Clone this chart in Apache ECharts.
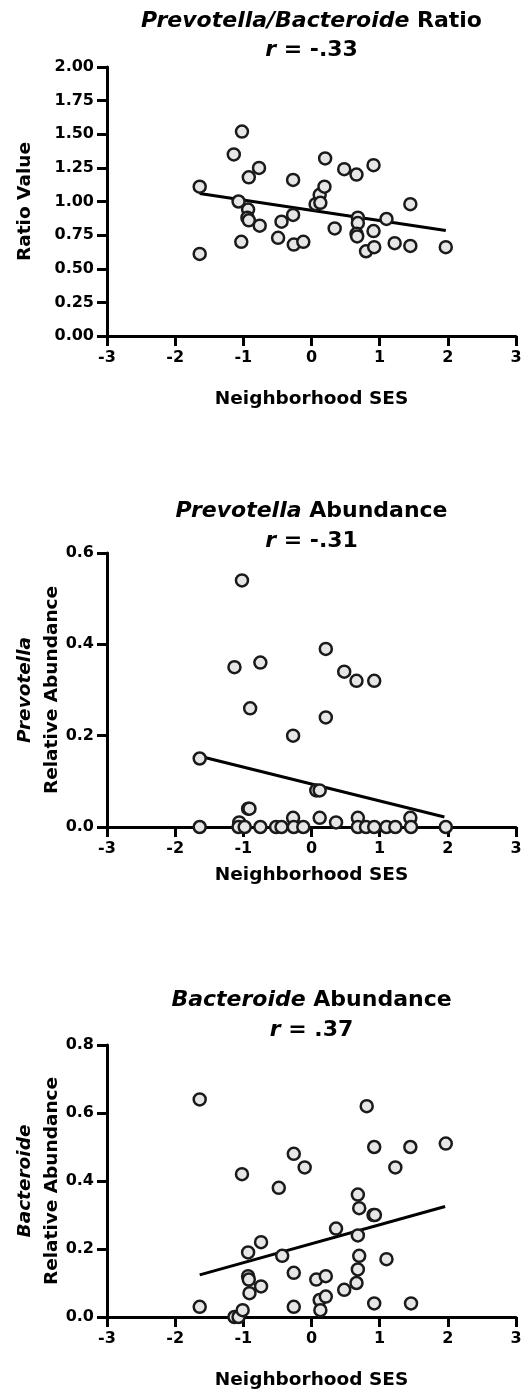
<!DOCTYPE html>
<html><head><meta charset="utf-8">
<script src="https://cdn.jsdelivr.net/npm/echarts@6/dist/echarts.min.js"></script>
<style>html,body{margin:0;padding:0;background:#fff}#c{width:522px;height:1393px}</style>
</head><body><div id="c"></div><script>
// Panel 1: Prevotella/Bacteroide ratio vs neighborhood SES
const ratioSES = [-1.64,-1.64,-1.14,-1.02,-1.07,-1.03,-0.93,-0.94,-0.92,-0.92,-0.77,-0.76,-0.49,-0.44,-0.27,-0.27,-0.26,-0.12,0.06,0.12,0.13,0.19,0.20,0.34,0.48,0.66,0.68,0.68,0.66,0.67,0.80,0.91,0.91,0.92,1.10,1.22,1.45,1.45,1.97];
const ratioVal = [1.11,0.61,1.35,1.52,1.00,0.70,0.94,0.88,0.86,1.18,1.25,0.82,0.73,0.85,1.16,0.90,0.68,0.70,0.98,1.05,0.99,1.11,1.32,0.80,1.24,1.20,0.88,0.84,0.76,0.74,0.63,1.27,0.78,0.66,0.87,0.69,0.98,0.67,0.66];
const ratioFitX = [-1.64, 1.97];
const ratioFitY = [1.06, 0.785];

// Panel 2: Prevotella relative abundance
const prevSES = [-1.64,-1.64,-1.13,-1.02,-1.06,-1.07,-0.98,-0.93,-0.91,-0.90,-0.75,-0.75,-0.52,-0.44,-0.27,-0.27,-0.26,-0.12,0.07,0.12,0.12,0.21,0.21,0.36,0.48,0.66,0.68,0.68,0.80,0.92,0.92,1.10,1.23,1.45,1.46,1.97];
const prevVal = [0.15,0.00,0.35,0.54,0.01,0.00,0.00,0.04,0.04,0.26,0.36,0.00,0.00,0.00,0.20,0.02,0.00,0.00,0.08,0.08,0.02,0.39,0.24,0.01,0.34,0.32,0.02,0.00,0.00,0.32,0.00,0.00,0.00,0.02,0.00,0.00];
const prevFitX = [-1.64, 1.95];
const prevFitY = [0.155, 0.022];

// Panel 3: Bacteroide relative abundance
const bactSES = [-1.64,-1.64,-1.13,-1.07,-1.01,-1.02,-0.93,-0.93,-0.92,-0.91,-0.74,-0.74,-0.48,-0.43,-0.26,-0.26,-0.26,-0.10,0.07,0.12,0.13,0.21,0.21,0.36,0.48,0.68,0.70,0.68,0.70,0.68,0.66,0.81,0.91,0.93,0.92,0.92,1.10,1.23,1.45,1.46,1.97];
const bactVal = [0.64,0.03,0.00,0.00,0.02,0.42,0.19,0.12,0.11,0.07,0.22,0.09,0.38,0.18,0.48,0.13,0.03,0.44,0.11,0.05,0.02,0.12,0.06,0.26,0.08,0.36,0.32,0.24,0.18,0.14,0.10,0.62,0.30,0.30,0.50,0.04,0.17,0.44,0.50,0.04,0.51];
const bactFitX = [-1.64, 1.96];
const bactFitY = [0.124, 0.325];

// Axis settings
const xTicks = {min: -3, max: 3, interval: 1};
const yTicks = [
  {min: 0, max: 2.0, interval: 0.25, dec: 2},
  {min: 0, max: 0.6, interval: 0.2, dec: 1},
  {min: 0, max: 0.8, interval: 0.2, dec: 1}
];

const FONT = 'DejaVu Sans';
const grids = [
  {left: 107, right: 6, top: 67, height: 269, outerBoundsMode: 'none', containLabel: false},
  {left: 107, right: 6, top: 553, height: 274, outerBoundsMode: 'none', containLabel: false},
  {left: 107, right: 6, top: 1045, height: 272, outerBoundsMode: 'none', containLabel: false}
];
const yNames = [
  'Ratio Value',
  '{i|Prevotella}\nRelative Abundance',
  '{i|Bacteroide}\nRelative Abundance'
];
const yNameGaps = [68, 41.5, 41.5];
const xNameGaps = [52, 37, 52];
const titles = [
  ['{i|Prevotella/Bacteroide} Ratio', '{i|r} = -.33'],
  ['{i|Prevotella} Abundance', '{i|r} = -.31'],
  ['{i|Bacteroide} Abundance', '{i|r} = .37']
];
const titleY = [[21, 50], [511, 541], [1000, 1030]];

const txt = {fontFamily: FONT, fontWeight: 'bold', color: '#000'};
const italicRich = {i: {fontFamily: FONT, fontWeight: 'bold', fontStyle: 'italic', color: '#000', fontSize: 18.5, lineHeight: 27}};

const xAxes = [0,1,2].map(i => ({
  type: 'value', gridIndex: i, min: xTicks.min, max: xTicks.max, interval: xTicks.interval,
  axisLine: {show: true, onZero: false, lineStyle: {color: '#000', width: 3}},
  axisTick: {show: true, length: 10, lineStyle: {color: '#000', width: 3}},
  axisLabel: Object.assign({margin: 13, fontSize: 16, lineHeight: 18}, txt),
  splitLine: {show: false},
  name: 'Neighborhood SES', nameLocation: 'middle', nameGap: xNameGaps[i], nameMoveOverlap: false,
  nameTextStyle: Object.assign({fontSize: 18.5, lineHeight: 22}, txt)
}));

const yAxes = [0,1,2].map(i => ({
  type: 'value', gridIndex: i, min: yTicks[i].min, max: yTicks[i].max, interval: yTicks[i].interval,
  axisLine: {show: true, onZero: false, lineStyle: {color: '#000', width: 3}},
  axisTick: {show: true, length: 10, lineStyle: {color: '#000', width: 3}},
  axisLabel: Object.assign({margin: 13, fontSize: 16, formatter: v => v.toFixed(yTicks[i].dec)}, txt),
  splitLine: {show: false},
  name: yNames[i], nameLocation: 'middle', nameRotate: 90, nameGap: yNameGaps[i], nameMoveOverlap: false,
  nameTextStyle: Object.assign({fontSize: 18.5, lineHeight: 27, rich: italicRich}, txt)
}));

const sets = [
  [ratioSES, ratioVal, ratioFitX, ratioFitY],
  [prevSES, prevVal, prevFitX, prevFitY],
  [bactSES, bactVal, bactFitX, bactFitY]
];
const series = [];
sets.forEach((s, i) => {
  series.push({
    type: 'line', xAxisIndex: i, yAxisIndex: i, symbol: 'none', silent: true, z: 2,
    lineStyle: {color: '#000', width: 3},
    data: s[2].map((x, k) => [x, s[3][k]])
  });
  series.push({
    type: 'scatter', xAxisIndex: i, yAxisIndex: i, clip: false, z: 3,
    symbol: 'circle', symbolSize: 12,
    itemStyle: {color: '#e6e6e6', borderColor: '#1a1a1a', borderWidth: 2.5, opacity: 1},
    data: s[0].map((x, k) => [x, s[1][k]])
  });
});

const graphic = [];
titles.forEach((t, i) => {
  t.forEach((line, j) => {
    graphic.push({
      type: 'text', x: 311.5, y: titleY[i][j],
      style: {
        text: line, align: 'center', verticalAlign: 'middle',
        font: 'bold 22px "DejaVu Sans"', fill: '#000',
        rich: {i: {fontFamily: FONT, fontWeight: 'bold', fontStyle: 'italic', fontSize: 22, fill: '#000'}}
      }
    });
  });
});

const chart = echarts.init(document.getElementById('c'), null, {renderer: 'canvas'});
chart.setOption({
  animation: false,
  backgroundColor: '#fff',
  grid: grids,
  xAxis: xAxes,
  yAxis: yAxes,
  series: series,
  graphic: graphic
});
</script></body></html>
